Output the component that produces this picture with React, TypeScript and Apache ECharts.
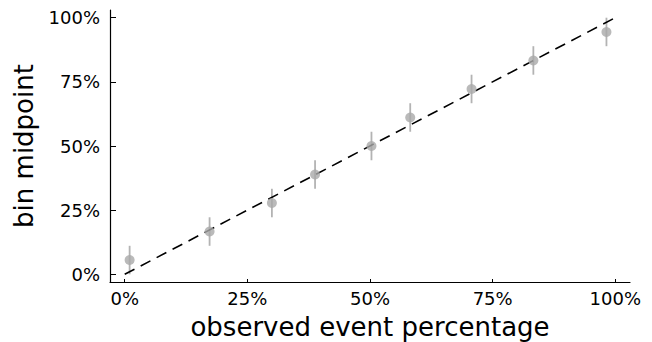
import React, { useEffect, useRef } from "react";
import * as echarts from "echarts";

const observed = [0.01, 0.173, 0.3, 0.388, 0.503, 0.582, 0.707, 0.833, 0.982];
const binMidpoints = [0.0556, 0.1667, 0.2778, 0.3889, 0.5, 0.6111, 0.7222, 0.8333, 0.9444];
const errLow = [0.0, 0.1111, 0.2222, 0.3333, 0.4444, 0.5556, 0.6667, 0.7778, 0.8889];
const errHigh = [0.1111, 0.2222, 0.3333, 0.4444, 0.5556, 0.6667, 0.7778, 0.8889, 1.0];
const tickValues = [0, 0.25, 0.5, 0.75, 1];
const diagonal = [[0, 0], [1, 1]];
const xTitle = "observed event percentage";
const yTitle = "bin midpoint";

const FONT = "DejaVu Sans";

export default function App() {
  const ref = useRef<HTMLDivElement>(null);
  useEffect(() => {
    const chart = echarts.init(ref.current!, null, { renderer: "svg" });
    const pct = (v: number) => `${Math.round(v * 100)}%`;
    const points = observed.map((x, i) => [x, binMidpoints[i]]);
    const bars = observed.map((x, i) => [x, errLow[i], errHigh[i]]);
    chart.setOption({
      animation: false,
      backgroundColor: "#ffffff",
      grid: { left: 110, right: 22, top: 10, bottom: 60, containLabel: false, outerBoundsMode: "none" },
      graphic: [
        {
          type: "text",
          x: 370,
          y: 327,
          style: { text: xTitle, fontFamily: FONT, fontSize: 26, fill: "#000", align: "center", verticalAlign: "middle" },
        },
        {
          type: "text",
          x: 24,
          y: 146,
          rotation: Math.PI / 2,
          style: { text: yTitle, fontFamily: FONT, fontSize: 26, fill: "#000", align: "center", verticalAlign: "middle" },
        },
      ],
      xAxis: {
        type: "value",
        min: -0.03,
        max: 1.03,
        axisLine: { show: true, onZero: false, lineStyle: { color: "#000", width: 1.2 } },
        axisTick: { show: true, inside: true, length: 3, customValues: tickValues, lineStyle: { color: "#000", width: 1 } },
        axisLabel: { customValues: tickValues, formatter: pct, fontFamily: FONT, fontSize: 18, color: "#000", margin: 7 },
        splitLine: { show: false },
      },
      yAxis: {
        type: "value",
        min: -0.03,
        max: 1.03,
        axisLine: { show: true, onZero: false, lineStyle: { color: "#000", width: 1.2 } },
        axisTick: { show: true, inside: true, length: 6, customValues: tickValues, lineStyle: { color: "#000", width: 1 } },
        axisLabel: { customValues: tickValues, formatter: pct, fontFamily: FONT, fontSize: 18, color: "#000", margin: 10 },
        splitLine: { show: false },
      },
      series: [
        {
          type: "line",
          data: diagonal,
          showSymbol: false,
          symbol: "none",
          lineStyle: { color: "#000", width: 1.6, type: [11, 7] },
          z: 3,
        },
        {
          type: "custom",
          data: bars,
          renderItem: (params: any, api: any) => {
            const x = api.value(0);
            const p1 = api.coord([x, api.value(1)]);
            const p2 = api.coord([x, api.value(2)]);
            return {
              type: "line",
              shape: { x1: p1[0], y1: p1[1], x2: p2[0], y2: p2[1] },
              style: { stroke: "#b3b3b3", lineWidth: 1.8 },
            };
          },
          z: 2,
        },
        {
          type: "scatter",
          data: points,
          symbol: "circle",
          symbolSize: 10,
          itemStyle: { color: "#a9a9a9" },
          z: 4,
        },
      ],
    });
    return () => chart.dispose();
  }, []);
  return <div ref={ref} style={{ position: "fixed", left: 0, top: 0, width: 652, height: 342 }} />;
}
